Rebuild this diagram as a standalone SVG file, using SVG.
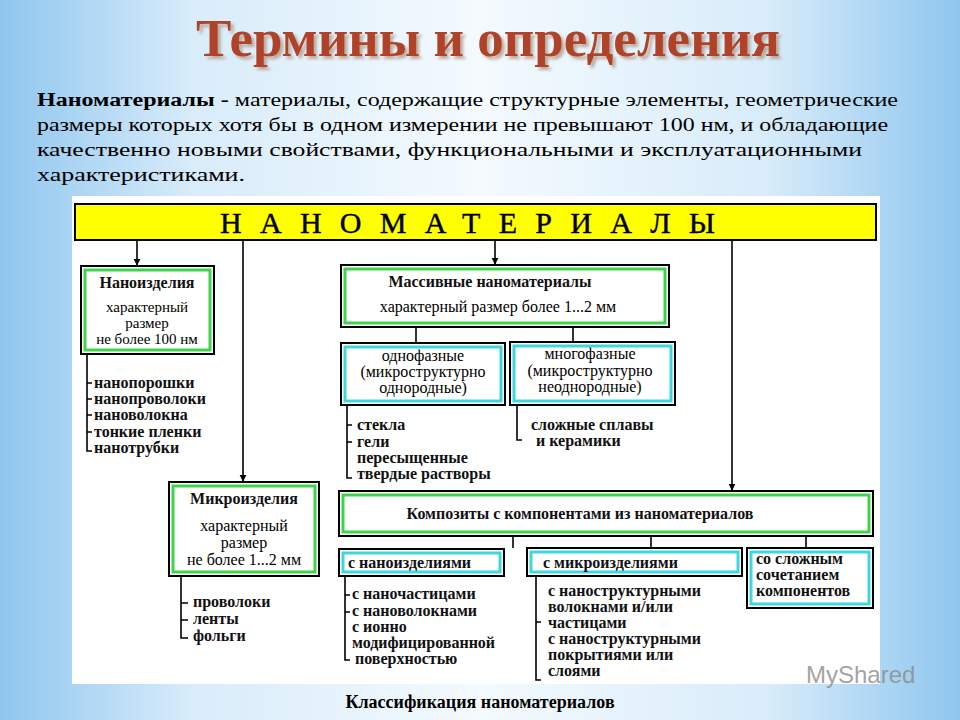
<svg xmlns="http://www.w3.org/2000/svg" width="960" height="720" viewBox="0 0 960 720">
<defs>
<linearGradient id="bg" x1="0" y1="0" x2="1" y2="0">
<stop offset="0" stop-color="#8fc6ee"/><stop offset="0.2" stop-color="#d8ecfa"/><stop offset="0.5" stop-color="#f4fafe"/><stop offset="0.8" stop-color="#d8ecfa"/><stop offset="1" stop-color="#8fc6ee"/>
</linearGradient>
<filter id="sh" x="-5%" y="-20%" width="110%" height="150%"><feDropShadow dx="3" dy="3" stdDeviation="1.5" flood-color="#b09a88" flood-opacity="0.8"/></filter>
<marker id="ar" viewBox="0 0 10 10" refX="9" refY="5" markerWidth="7" markerHeight="9" orient="auto" markerUnits="userSpaceOnUse"><path d="M0,0 L10,5 L0,10 z" fill="#000"/></marker>
<style>
.s{font-family:"Liberation Serif",serif;fill:#000}
.b{font-weight:bold}
.ob{fill:#fff;stroke:#000;stroke-width:2}
.g{fill:none;stroke:#3ed34a;stroke-width:3}
.c{fill:none;stroke:#3fd6e0;stroke-width:3}
.l{stroke:#000;stroke-width:1.6;fill:none}
.t{font-family:"Liberation Serif",serif;font-size:16px;font-weight:bold;fill:#111}
.m{font-family:"Liberation Serif",serif;font-size:16px;fill:#000;text-anchor:middle}
.n{font-size:15px}
</style>
</defs>
<rect width="960" height="720" fill="url(#bg)"/>
<text x="488" y="56" text-anchor="middle" class="s b" font-size="53" style="fill:#b0432a" filter="url(#sh)">Термины и определения</text>
<g class="s" font-size="18.5">
<text x="37" y="106" textLength="861" lengthAdjust="spacingAndGlyphs"><tspan font-weight="bold">Наноматериалы -</tspan> материалы, содержащие структурные элементы, геометрические</text>
<text x="37" y="131" textLength="851" lengthAdjust="spacingAndGlyphs">размеры которых хотя бы в одном измерении не превышают 100 нм, и обладающие</text>
<text x="37" y="156" textLength="825" lengthAdjust="spacingAndGlyphs">качественно новыми свойствами, функциональными и эксплуатационными</text>
<text x="37" y="181" textLength="208" lengthAdjust="spacingAndGlyphs">характеристиками.</text>
</g>
<rect x="72" y="196" width="808" height="488" fill="#fff"/>
<g id="bar"><rect x="75" y="204" width="801" height="36" fill="#ffff00" stroke="#000" stroke-width="2"/>
<text x="220" y="233" class="s" font-size="30" textLength="495" lengthAdjust="spacing" stroke="#000" stroke-width="0.4">НАНОМАТЕРИАЛЫ</text></g>
<g id="connectors">
<line class="l" x1="137" y1="240" x2="137" y2="265" marker-end="url(#ar)"/>
<line class="l" x1="243" y1="240" x2="243" y2="481" marker-end="url(#ar)"/>
<line class="l" x1="495" y1="240" x2="495" y2="264" marker-end="url(#ar)"/>
<line class="l" x1="732" y1="240" x2="732" y2="490" marker-end="url(#ar)"/>
<line class="l" x1="416" y1="327" x2="416" y2="343"/>
<line class="l" x1="573" y1="327" x2="573" y2="342"/>
<line class="l" x1="513" y1="536" x2="513" y2="548"/>
<line class="l" x1="651" y1="536" x2="651" y2="548"/>
<line class="l" x1="806" y1="536" x2="806" y2="548"/>
<path class="l" d="M87 354 V451 H92 M87 383 H92 M87 399 H92 M87 415 H92 M87 432 H92"/>
<path class="l" d="M347 405 V478 H352 M347 425 H352 M347 442 H352"/>
<path class="l" d="M517 405 V440 H522"/>
<path class="l" d="M181 576 V638 H188 M181 603 H188 M181 620 H188"/>
<path class="l" d="M345 576 V660 H350 M345 595 H350 M345 612 H350"/>
<path class="l" d="M536 576 V680 H541 M536 622 H541"/>
</g>
<g id="nanoizd"><rect class="ob" x="81" y="266" width="133" height="88"/><rect class="g" x="85" y="270" width="125" height="80"/>
<text x="147" y="288" text-anchor="middle" class="t">Наноизделия</text>
<text x="147" y="312" class="m n">характерный</text>
<text x="147" y="328" class="m n">размер</text>
<text x="147" y="344" class="m n">не более 100 нм</text></g>
<g class="t"><text x="94" y="388">нанопорошки</text><text x="94" y="404">нанопроволоки</text><text x="94" y="420">нановолокна</text><text x="94" y="437">тонкие пленки</text><text x="94" y="453">нанотрубки</text></g>
<g id="massiv"><rect class="ob" x="341" y="265" width="328" height="62"/><rect class="g" x="345" y="269" width="320" height="54"/>
<text x="490" y="287" text-anchor="middle" class="t">Массивные  наноматериалы</text>
<text x="498" y="312" class="m">характерный  размер  более 1...2 мм</text></g>
<g id="odnof"><rect class="ob" x="341" y="343" width="164" height="62"/><rect class="c" x="345" y="347" width="156" height="54"/>
<text x="423" y="361" class="m">однофазные</text>
<text x="423" y="377" class="m">(микроструктурно</text>
<text x="423" y="393" class="m">однородные)</text></g>
<g id="mnogof"><rect class="ob" x="510" y="342" width="165" height="63"/><rect class="c" x="514" y="346" width="157" height="55"/>
<text x="590" y="359" class="m">многофазные</text>
<text x="590" y="376" class="m">(микроструктурно</text>
<text x="590" y="392" class="m">неоднородные)</text></g>
<g class="t"><text x="357" y="430">стекла</text><text x="357" y="447">гели</text><text x="357" y="463">пересыщенные</text><text x="357" y="479">твердые растворы</text>
<text x="531" y="430">сложные сплавы</text><text x="536" y="446">и керамики</text></g>
<g id="mikroizd"><rect class="ob" x="169" y="482" width="150" height="94"/><rect class="g" x="173" y="486" width="142" height="86"/>
<text x="244" y="504" text-anchor="middle" class="t">Микроизделия</text>
<text x="244" y="531" class="m">характерный</text>
<text x="244" y="548" class="m">размер</text>
<text x="244" y="565" class="m">не более 1...2 мм</text></g>
<g class="t"><text x="193" y="607">проволоки</text><text x="193" y="624">ленты</text><text x="193" y="641">фольги</text></g>
<g id="kompozit"><rect class="ob" x="339" y="491" width="534" height="45"/><rect class="g" x="343" y="495" width="526" height="37"/>
<text x="580" y="519" text-anchor="middle" class="t">Композиты с  компонентами из  наноматериалов</text></g>
<g id="snano"><rect class="ob" x="339" y="549" width="165" height="27"/><rect class="c" x="343" y="553" width="157" height="19"/>
<text x="348" y="568" class="t">с наноизделиями</text></g>
<g id="smikro"><rect class="ob" x="527" y="548" width="215" height="28"/><rect class="c" x="531" y="552" width="207" height="20"/>
<text x="543" y="568" class="t">с микроизделиями</text></g>
<g id="sloj"><rect class="ob" x="747" y="548" width="126" height="60"/><rect class="c" x="751" y="552" width="118" height="52"/>
<text x="756" y="564" class="t">со сложным</text><text x="756" y="580" class="t">сочетанием</text><text x="756" y="596" class="t">компонентов</text></g>
<g class="t"><text x="352" y="599">с наночастицами</text><text x="352" y="616">с нановолокнами</text><text x="352" y="632">с ионно</text><text x="352" y="648">модифицированной</text><text x="355" y="664">поверхностью</text>
<text x="548" y="596">с наноструктурными</text><text x="548" y="612">волокнами и/или</text><text x="548" y="628">частицами</text><text x="548" y="644">с наноструктурными</text><text x="548" y="660">покрытиями или</text><text x="548" y="676">слоями</text></g>
<text x="806" y="683" font-family="Liberation Sans,sans-serif" font-size="24" fill="#8a8a8a" fill-opacity="0.8">MyShared</text>
<text x="480" y="708" text-anchor="middle" class="s b" font-size="18">Классификация  наноматериалов</text>
</svg>
